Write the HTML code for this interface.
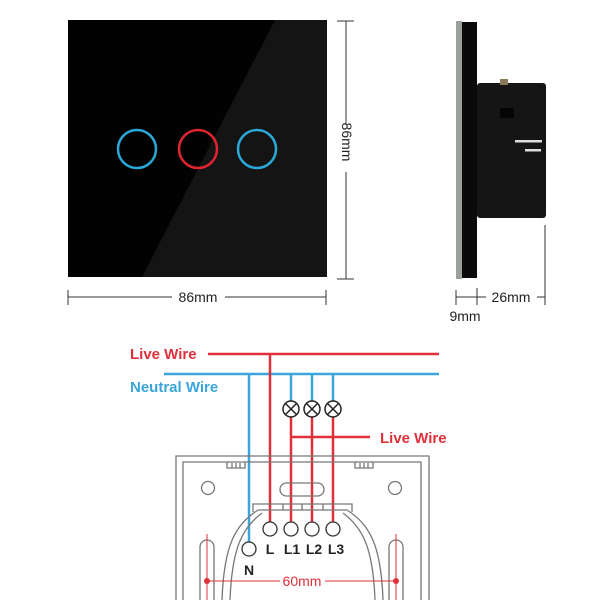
<!DOCTYPE html>
<html><head><meta charset="utf-8"><style>body{margin:0;background:#fff}svg{display:block}text{font-family:"Liberation Sans",sans-serif}</style></head><body>
<svg width="600" height="600" viewBox="0 0 600 600" xmlns="http://www.w3.org/2000/svg">
<defs><linearGradient id="g" x1="0" y1="0" x2="1" y2="0"><stop offset="0" stop-color="#000"/><stop offset="1" stop-color="#111"/></linearGradient></defs>
<!-- front panel -->
<rect x="68" y="20" width="259" height="257" fill="#020202"/>
<polygon points="275,20 327,20 327,277 142,277" fill="#141414"/>
<circle cx="137" cy="149" r="19" fill="none" stroke="#2aa8d8" stroke-width="2.5"/>
<circle cx="198" cy="149" r="19" fill="none" stroke="#e02530" stroke-width="2.5"/>
<circle cx="257" cy="149" r="19" fill="none" stroke="#2aa8d8" stroke-width="2.5"/>
<g stroke="#333" stroke-width="1" fill="none">
<line x1="337" y1="21" x2="354" y2="21"/><line x1="337" y1="279" x2="354" y2="279"/>
<line x1="346" y1="21" x2="346" y2="125"/><line x1="346" y1="172" x2="346" y2="279"/>
<line x1="68" y1="290" x2="68" y2="305"/><line x1="326" y1="290" x2="326" y2="305"/>
<line x1="68" y1="297" x2="172" y2="297"/><line x1="225" y1="297" x2="326" y2="297"/>
<line x1="456" y1="290" x2="456" y2="305"/><line x1="477" y1="288" x2="477" y2="305"/><line x1="545" y1="225" x2="545" y2="305"/>
<line x1="456" y1="297" x2="486" y2="297"/><line x1="537" y1="297" x2="545" y2="297"/>
</g>
<text x="340" y="148" font-size="14" fill="#222" text-anchor="middle" transform="rotate(90 346 148)" dy="4">86mm</text>
<text x="198" y="302" font-size="14" fill="#222" text-anchor="middle">86mm</text>
<text x="511" y="302" font-size="14" fill="#222" text-anchor="middle">26mm</text>
<text x="465" y="321" font-size="14" fill="#222" text-anchor="middle">9mm</text>
<!-- side view -->
<rect x="456" y="21" width="6" height="258" fill="#9aa09a"/>
<rect x="462" y="22" width="15" height="256" fill="#0a0a0a"/>
<rect x="477" y="83" width="69" height="135" rx="3" fill="#151515"/>
<rect x="500" y="79" width="8" height="6" fill="#8a7a5a"/>
<rect x="500" y="108" width="14" height="10" fill="#050505"/>
<rect x="515" y="140" width="27" height="2.5" fill="#ddd"/>
<rect x="525" y="149" width="16" height="2.5" fill="#ddd"/>
<!-- wiring -->
<text x="130" y="359" font-size="15" font-weight="bold" fill="#e0303a">Live Wire</text>
<text x="130" y="392" font-size="15" font-weight="bold" fill="#3aa6dc">Neutral Wire</text>
<text x="380" y="443" font-size="15" font-weight="bold" fill="#e0303a">Live Wire</text>
<g stroke-width="2.5" fill="none">
<line x1="208" y1="354" x2="439" y2="354" stroke="#e0303a"/>
<line x1="164" y1="374" x2="439" y2="374" stroke="#3aa6dc"/>
<line x1="249" y1="374" x2="249" y2="543" stroke="#3aa6dc"/>
<line x1="291" y1="374" x2="291" y2="401" stroke="#3aa6dc"/>
<line x1="312" y1="374" x2="312" y2="401" stroke="#3aa6dc"/>
<line x1="333" y1="374" x2="333" y2="401" stroke="#3aa6dc"/>
<line x1="270" y1="354" x2="270" y2="523" stroke="#e0303a"/>
<line x1="291" y1="417" x2="291" y2="523" stroke="#e0303a"/>
<line x1="312" y1="417" x2="312" y2="523" stroke="#e0303a"/>
<line x1="333" y1="417" x2="333" y2="523" stroke="#e0303a"/>
<line x1="291" y1="437" x2="370" y2="437" stroke="#e0303a"/>
</g>
<g stroke="#222" stroke-width="1.5" fill="#fff">
<circle cx="291" cy="409" r="8"/><circle cx="312" cy="409" r="8"/><circle cx="333" cy="409" r="8"/>
<path d="M285.5,403.5l11,11M296.5,403.5l-11,11M306.5,403.5l11,11M317.5,403.5l-11,11M327.5,403.5l11,11M338.5,403.5l-11,11"/>
</g>
<!-- back box -->
<g stroke="#777" stroke-width="1.3" fill="none">
<path d="M176,600V456H429V600"/>
<path d="M183,600V462H421V600"/>
<path d="M227,462v6h18v-6M232,463v5M236,463v5M240,463v5"/>
<path d="M355,462v6h18v-6M360,463v5M364,463v5M368,463v5"/>
<circle cx="208" cy="488" r="6.5"/><circle cx="395" cy="488" r="6.5"/>
<rect x="280" y="483" width="44" height="13" rx="6.5"/>
<path d="M253,512V504H352V512"/>
<path d="M258,510H347"/>
<path d="M258,510C235,525 224,545 222,600M347,510C370,525 381,545 383,600"/>
<path d="M262,513C242,528 232,548 230,600M343,513C363,528 373,548 375,600"/>
<path d="M283,504v6M302,504v6M323,504v6"/>
<rect x="200" y="540" width="14" height="70" rx="7"/>
<rect x="389" y="540" width="14" height="70" rx="7"/>
</g>
<g stroke="#333" stroke-width="1.3" fill="#fff">
<circle cx="270" cy="529" r="7"/><circle cx="291" cy="529" r="7"/><circle cx="312" cy="529" r="7"/><circle cx="333" cy="529" r="7"/><circle cx="249" cy="549" r="7"/>
</g>
<g font-size="14" font-weight="bold" fill="#222" text-anchor="middle">
<text x="270" y="554">L</text><text x="292" y="554">L1</text><text x="314" y="554">L2</text><text x="336" y="554">L3</text><text x="249" y="575">N</text>
</g>
<g stroke="#e0303a" stroke-width="1">
<line x1="207" y1="534" x2="207" y2="600"/><line x1="396" y1="534" x2="396" y2="600"/>
<line x1="207" y1="581" x2="280" y2="581"/><line x1="325" y1="581" x2="396" y2="581"/>
</g>
<circle cx="207" cy="581" r="3" fill="#e0303a"/><circle cx="396" cy="581" r="3" fill="#e0303a"/>
<text x="302" y="586" font-size="14" fill="#e0303a" text-anchor="middle">60mm</text>
</svg>
</body></html>
